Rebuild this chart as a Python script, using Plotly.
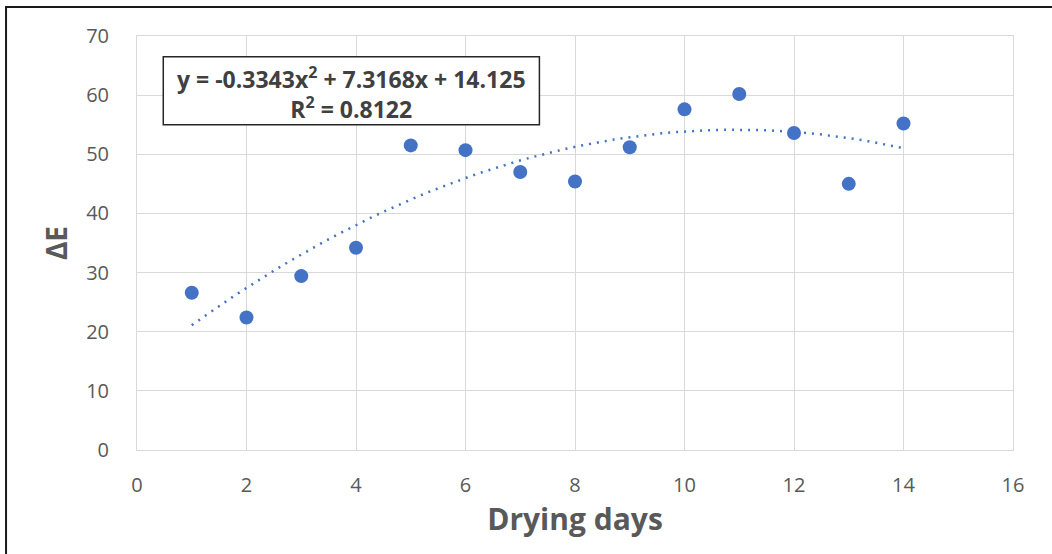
import numpy as np
import plotly.graph_objects as go

# ---------------------------------------------------------------------------
# Data
# ---------------------------------------------------------------------------

days = [1, 2, 3, 4, 5, 6, 7, 8, 9, 10, 11, 12, 13, 14]
delta_e = [26.6, 22.4, 29.4, 34.2, 51.5, 50.7, 47.0, 45.4, 51.2, 57.6, 60.2, 53.6, 45.0, 55.2]

# polynomial trendline coefficients as printed on the chart
trend_coef = [-0.3343, 7.3168, 14.125]
r_squared = 0.8122

x_ticks = [0, 2, 4, 6, 8, 10, 12, 14, 16]
y_ticks = [0, 10, 20, 30, 40, 50, 60, 70]

BLUE = "#4472C4"
GRID = "#d9d9d9"
TICK_COLOR = "#595959"
FONT = "'Open Sans', Lato, sans-serif"

trend_x = np.linspace(days[0], days[-1], 60)
trend_y = np.polyval(trend_coef, trend_x)

fig = go.Figure()

fig.add_trace(go.Scatter(
    x=trend_x, y=trend_y,
    mode="lines",
    line=dict(color=BLUE, width=2.5, dash="2px,6px"),
    hoverinfo="skip",
    showlegend=False,
))

fig.add_trace(go.Scatter(
    x=days, y=delta_e,
    mode="markers",
    marker=dict(color=BLUE, size=14),
    showlegend=False,
))

# equation box
fig.add_shape(
    type="rect", xref="x", yref="y",
    x0=0.48, x1=7.35, y0=55.0, y1=66.5,
    line=dict(color="#262626", width=1.5),
    fillcolor="white",
    layer="above",
)
fig.add_annotation(
    x=3.915, y=60.4, xref="x", yref="y",
    text=(f"<b>y = {trend_coef[0]}x<sup>2</sup> + {trend_coef[1]}x + {trend_coef[2]}<br>"
          f"R<sup>2</sup> = {r_squared}</b>"),
    showarrow=False,
    font=dict(family=FONT, size=23, color="#404040"),
    align="center",
)

# outer chart frame (only left/top edges visible in the crop)
fig.add_shape(
    type="rect", xref="paper", yref="paper",
    x0=-0.1495, x1=1.5, y0=-0.5, y1=1.07,
    line=dict(color="#1a1a1a", width=2),
    fillcolor="rgba(0,0,0,0)",
    layer="above",
)

fig.update_layout(
    width=1052, height=554,
    margin=dict(l=137, r=39, t=36, b=104),
    paper_bgcolor="white",
    plot_bgcolor="white",
    font=dict(family=FONT, size=20, color=TICK_COLOR),
    xaxis=dict(
        range=[0, 16], tickvals=x_ticks,
        showgrid=True, gridcolor=GRID, gridwidth=1,
        zeroline=False, showline=True, linecolor=GRID, mirror=True,
        ticks="", tickfont=dict(size=20, color=TICK_COLOR),
        ticklabelstandoff=17,
        title=dict(text="<b>Drying days</b>", font=dict(size=30, color=TICK_COLOR), standoff=8),
    ),
    yaxis=dict(
        range=[0, 70], tickvals=y_ticks,
        showgrid=True, gridcolor=GRID, gridwidth=1,
        zeroline=False, showline=True, linecolor=GRID, mirror=True,
        ticks="", tickfont=dict(size=20, color=TICK_COLOR),
        ticklabelstandoff=23,
        title=dict(text="<b>ΔE</b>", font=dict(size=28, color=TICK_COLOR), standoff=10),
    ),
)

# drop the default 8px body margin so the figure sits flush in the window
fig.write_html(
    "out.html",
    config={"displayModeBar": False},
    post_script="document.body.style.margin='0';",
)
